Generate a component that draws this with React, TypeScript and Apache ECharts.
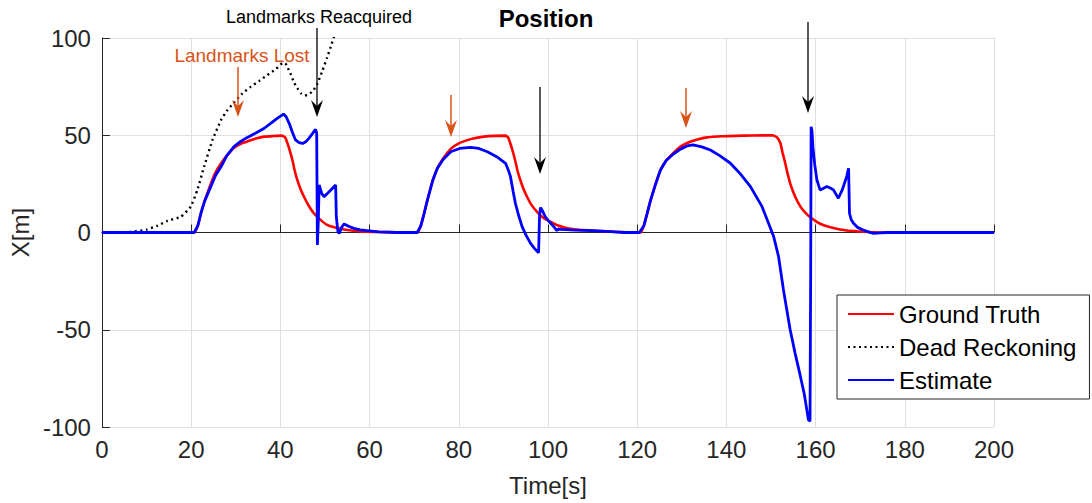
import React, { useEffect, useRef } from "react";
import * as echarts from "echarts";

// Ground truth position
const gtTime = [
  0, 10, 20, 20.7, 21.5, 22.2, 23, 24.4, 25.5, 26.7, 28, 29.6, 31.5, 32.6, 34.5, 36.4, 38.5, 40.3,
  41.1, 41.6, 42.2, 42.7, 43.2, 43.8, 44.5, 45.3, 46.3, 47.5, 49, 50.5, 52.5, 55, 58, 62, 66, 70.7,
  71.5, 72.2, 72.9, 74.2, 75.2, 76.5, 78.2, 80, 81.9, 83.5, 85.6, 88, 90.5,
  91.1, 91.6, 92.2, 92.7, 93.2, 93.8, 94.5, 95.3, 96.3, 97.6, 99, 100.6, 102.3, 104.3, 107, 111.7, 115, 118, 120.7,
  121.5, 122.2, 123, 124, 125.2, 126.5, 128.2, 129.5, 131.2, 133.5, 135.7, 139, 142, 146, 150.4,
  151.3, 152.1, 152.6, 153.2, 153.7, 154.3, 155.4, 156.6, 157.7, 158.8, 161, 163.3, 167, 170, 173, 176, 200,
];
const gtX = [
  0, 0, 0, 0, 3.5, 9.9, 16, 25, 31, 35.5, 39.5, 43.5, 46, 46.8, 48.3, 49.3, 49.6, 49.8,
  48.8, 45.8, 41.5, 37.3, 32, 27, 22.5, 18.4, 14, 9.9, 6.5, 3.9, 2.4, 1.3, 0.6, 0.3, 0.1, 0,
  3.5, 9.5, 16, 27, 33, 38, 43, 45.8, 47.5, 48.5, 49.3, 49.7, 49.8,
  48.8, 45.5, 41, 36.5, 31.5, 27, 22.5, 18.4, 14.2, 10.5, 7.5, 5.5, 3.6, 2.2, 1.4, 0.8, 0.4, 0.1, 0,
  3.5, 9.5, 16.5, 24, 32, 37, 41, 43.8, 46, 47.8, 48.9, 49.5, 49.7, 49.9, 50,
  49, 46, 41, 35.6, 30.5, 25.3, 18.5, 13.3, 10.2, 7.8, 4.5, 2.7, 1.0, 0.5, 0.1, 0, 0,
];

// Dead reckoning position (leaves the plotted range after ~52 s)
const drTime = [
  0, 5, 7.2, 10, 12.5, 14.7, 17.7, 19.9, 21.4, 22.9, 24.8, 26.7, 28, 29.6, 31.5, 33.4,
  35.3, 37.1, 39, 40.5, 41.1, 41.6, 42.4, 43.1, 44.0, 44.6, 45.4, 46.1, 47.2, 48.3, 49.4, 50.5,
  51.3, 52, 53, 55, 58,
];
const drX = [
  0, 0, 0.5, 1.5, 3.5, 6, 8.1, 13.3, 21.9, 33.8, 47.6, 57.8, 62.5, 66.8, 71.5, 75,
  78, 81, 84, 87, 87, 85, 81, 77, 73.5, 71.6, 70.5, 70.7, 72.5, 76.5, 83, 90,
  95.5, 100.5, 108, 125, 150,
];

// Filter estimate
const estTime = [
  0, 20, 20.7, 21.5, 22.2, 23, 24.4, 25.5, 26.7, 28, 29.6, 31.1, 32.6, 34.5, 36.4, 37.9, 39.3, 40.7,
  41.3, 42, 42.7, 43.4, 44.2, 45, 45.7, 46.4, 47.2, 47.9, 48.15, 48.3, 48.5, 48.7, 49.3, 49.8, 51.1, 52.4,
  52.55, 52.9, 53.2, 53.7, 54.3, 55.3, 56.5, 57.9, 60, 62, 66, 70.7,
  71.5, 72.2, 72.9, 74.2, 75.2, 76.5, 78.2, 80.2, 82.6, 84.5, 86.4, 88.5, 90.5, 91.2, 91.6,
  92.2, 92.7, 93.4, 94.2, 95.1, 96.1, 97.0, 97.9, 98.0, 98.1, 98.3, 98.8, 99.4, 100.3, 101.3,
  102, 102.3, 103, 106, 110, 114, 117, 120.5,
  121.5, 122.2, 123, 124, 125.2, 126.5, 128.2, 129.8, 131.2, 132.5, 134.5, 136.4, 138.5,
  140.9, 143, 145.4, 148, 150.6, 151.7, 152.8, 154.3, 155.4, 156.6, 157.5,
  158.4, 158.75, 158.9, 159.0, 159.2, 159.4, 159.8, 160.3, 161, 161.8, 162.5, 163.2,
  164, 165.1, 166, 167, 167.4, 167.6, 168.0, 168.5, 169.5, 170.7, 172, 173, 174.5, 176, 200,
];
const estX = [
  0, 0, 0, 3.5, 9.9, 16, 23.6, 29.5, 33.8, 39.5, 44.1, 46.8, 48.9, 51.2, 53.6, 56.2, 58.7, 60.9,
  59.5, 56, 51.5, 47.6, 46.2, 45.8, 46.6, 48.4, 50.8, 53, 51, -6.4, 5, 24.4, 20, 18.4, 21.3, 24.4,
  8, 0.4, -0.5, 2.5, 4.4, 3.2, 2.1, 1.3, 0.8, 0.3, 0, 0,
  3.5, 9.5, 16, 27, 33, 37.5, 41.5, 43.2, 43.8, 43.2, 41.5, 39, 35.6, 31.5, 28.7,
  21, 15, 9, 3, -1.5, -5.6, -8.3, -10.4, -10.5, 8, 12.8, 11, 8.1, 5.5, 3,
  0.9, 1.8, 1.6, 1.2, 1, 0.5, 0, 0,
  3.5, 9.5, 16.5, 24, 32, 37, 40.5, 43, 44.5, 45, 44, 42.4, 39.5,
  35.6, 30.5, 23.6, 13.3, -2.1, -12.4, -29.6, -50, -62, -74, -83.5,
  -96.4, -97, -20, 54.4, 52, 44, 35, 27, 21.9, 22.8, 23.6, 23,
  21.9, 17.6, 22, 29, 33, 9.9, 6.5, 4.7, 2.5, 1.3, 0.2, -0.4, -0.2, 0, 0,
];

const FONT = "'Liberation Sans', Arial, sans-serif";
const AXIS_COLOR = "#262626";
const GRID_COLOR = "#dfdfdf";
const LOST_COLOR = "#D95319";

const pairs = (t: number[], v: number[]) => t.map((ti, i) => [ti, v[i]]);

// Vertical annotation arrow with a notched head, in pixel space
function arrow(x: number, yTop: number, yTip: number, color: string, width: number) {
  return [
    {
      type: "line",
      shape: { x1: x, y1: yTop, x2: x, y2: yTip - 10 },
      style: { stroke: color, lineWidth: width },
      z: 100,
    },
    {
      type: "polygon",
      shape: {
        points: [
          [x, yTip],
          [x - 6, yTip - 17],
          [x, yTip - 11],
          [x + 6, yTip - 17],
        ],
      },
      style: { fill: color },
      z: 100,
    },
  ];
}

export default function App() {
  const ref = useRef<HTMLDivElement>(null);

  useEffect(() => {
    if (!ref.current) return;
    const chart = echarts.init(ref.current, undefined, { renderer: "svg" });

    const option: any = {
      animation: false,
      backgroundColor: "#ffffff",
      title: {
        text: "Position",
        left: "center",
        top: 1,
        textStyle: { fontFamily: FONT, fontSize: 24, fontWeight: "bold", color: "#000" },
      },
      grid: { left: 101, right: 98, top: 38, bottom: 76, containLabel: false },
      legend: {
        orient: "vertical",
        left: 837,
        top: 295,
        backgroundColor: "#ffffff",
        borderColor: AXIS_COLOR,
        borderWidth: 1,
        borderRadius: 0,
        padding: [7, 13, 7, 10],
        itemGap: 9,
        itemWidth: 46,
        itemHeight: 14,
        itemTextGap: 7,
        itemStyle: { opacity: 0, borderWidth: 0 },
        textStyle: { fontFamily: FONT, fontSize: 24, color: "#000" },
        data: ["Ground Truth", "Dead Reckoning", "Estimate"],
      },
      xAxis: {
        type: "value",
        min: 0,
        max: 200,
        interval: 20,
        name: "Time[s]",
        nameLocation: "middle",
        nameGap: 46,
        nameTextStyle: { fontFamily: FONT, fontSize: 24, color: AXIS_COLOR },
        axisLine: { show: true, lineStyle: { color: AXIS_COLOR, width: 1 } },
        axisTick: { show: true, inside: true, length: 8, lineStyle: { color: AXIS_COLOR } },
        axisLabel: { fontFamily: FONT, fontSize: 24, color: AXIS_COLOR, margin: 10 },
        splitLine: { show: true, lineStyle: { color: GRID_COLOR, width: 1 } },
      },
      yAxis: {
        type: "value",
        min: -100,
        max: 100,
        interval: 50,
        name: "X[m]",
        nameLocation: "middle",
        nameGap: 66,
        nameTextStyle: { fontFamily: FONT, fontSize: 24, color: AXIS_COLOR },
        axisLine: { show: true, lineStyle: { color: AXIS_COLOR, width: 1 } },
        axisTick: { show: true, inside: true, length: 8, lineStyle: { color: AXIS_COLOR } },
        axisLabel: { fontFamily: FONT, fontSize: 24, color: AXIS_COLOR, margin: 11 },
        splitLine: { show: true, lineStyle: { color: GRID_COLOR, width: 1 } },
      },
      series: [
        {
          name: "Ground Truth",
          type: "line",
          data: pairs(gtTime, gtX),
          symbol: "none",
          showSymbol: false,
          clip: true,
          smooth: 0.15,
          lineStyle: { color: "#ff0000", width: 2.6 },
          itemStyle: { color: "#ff0000" },
          z: 2,
        },
        {
          name: "Dead Reckoning",
          type: "line",
          data: pairs(drTime, drX),
          symbol: "none",
          showSymbol: false,
          clip: true,
          smooth: 0.15,
          lineStyle: { color: "#000000", width: 2.4, type: [2, 3.5] },
          itemStyle: { color: "#000000" },
          z: 3,
        },
        {
          name: "Estimate",
          type: "line",
          data: pairs(estTime, estX),
          symbol: "none",
          showSymbol: false,
          clip: true,
          lineStyle: { color: "#0000ff", width: 2.8 },
          itemStyle: { color: "#0000ff" },
          z: 4,
        },
      ],
      graphic: [
        {
          type: "text",
          x: 319,
          y: 17,
          style: {
            text: "Landmarks Reacquired",
            fontFamily: FONT,
            fontSize: 18,
            fill: "#000",
            align: "center",
            verticalAlign: "middle",
          },
          z: 100,
        },
        {
          type: "text",
          x: 242,
          y: 55,
          style: {
            text: "Landmarks Lost",
            fontFamily: FONT,
            fontSize: 19,
            fill: LOST_COLOR,
            align: "center",
            verticalAlign: "middle",
          },
          z: 100,
        },
        ...arrow(238, 67, 117, LOST_COLOR, 1.5),
        ...arrow(317, 28, 117, "#000", 1.3),
        ...arrow(451, 95, 137, LOST_COLOR, 1.5),
        ...arrow(540, 87, 174, "#000", 1.3),
        ...arrow(686, 88, 128, LOST_COLOR, 1.5),
        ...arrow(808, 22, 113, "#000", 1.3),
      ],
    };

    chart.setOption(option);
    return () => chart.dispose();
  }, []);

  return (
    <div
      ref={ref}
      style={{ position: "fixed", left: 0, top: 0, width: 1092, height: 503, background: "#fff" }}
    />
  );
}
